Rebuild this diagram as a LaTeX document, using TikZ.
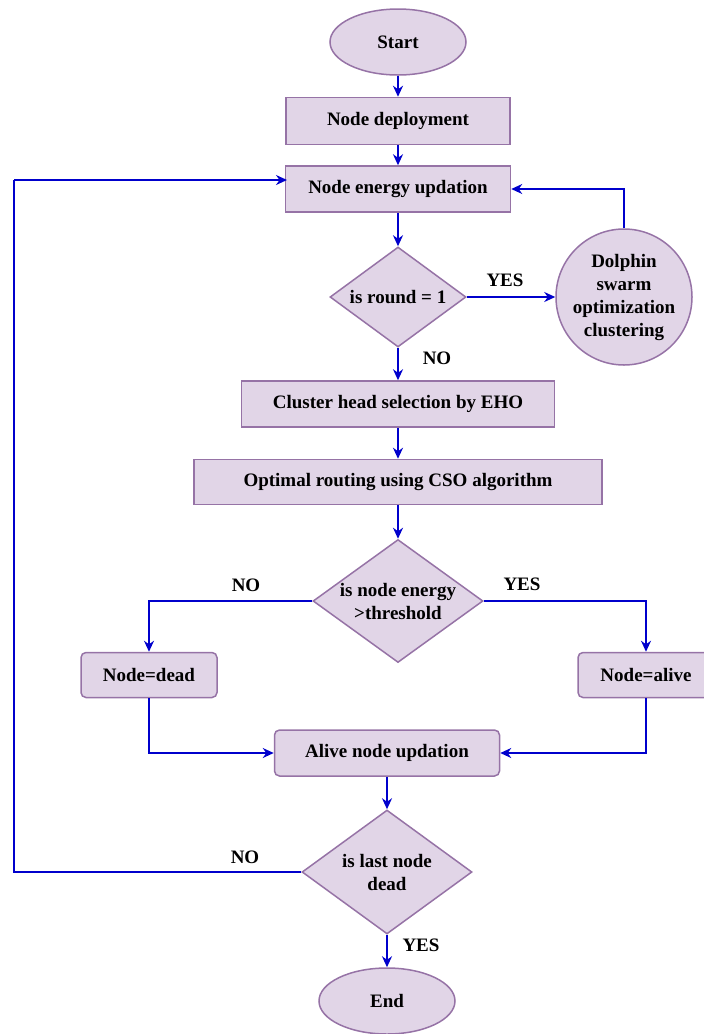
\documentclass[tikz,border=0pt]{standalone}
\usepackage{fontspec}
\setmainfont{Liberation Serif}
\usetikzlibrary{shapes.geometric,arrows.meta}
\definecolor{boxfill}{HTML}{E1D5E7}
\definecolor{boxdraw}{HTML}{9673A6}
\definecolor{arrowblue}{HTML}{0000CC}
\begin{document}
\begin{tikzpicture}[x=1pt,y=-1pt,
  base/.style={fill=boxfill,draw=boxdraw,line width=1.5pt,font=\fontsize{19}{23}\selectfont\bfseries,align=center,inner sep=0pt},
  rectbox/.style={base,rectangle},
  roundbox/.style={base,rectangle,rounded corners=5pt},
  term/.style={base,ellipse,minimum width=136pt,minimum height=66pt},
  decision/.style={base,diamond,aspect=1.4},
  conn/.style={draw=arrowblue,line width=2pt,-{Stealth[length=11pt,width=10pt]}},
  line/.style={draw=arrowblue,line width=2pt},
  lbl/.style={font=\fontsize{19}{23}\selectfont\bfseries,inner sep=0pt}
]
\useasboundingbox (0,0) rectangle (704,1034);
\node[term] (start) at (398,42) {Start};
\node[rectbox,minimum width=224pt,minimum height=47pt] (deploy) at (398,121) {Node deployment};
\node[rectbox,minimum width=225pt,minimum height=46pt] (energy) at (398,189) {Node energy updation};
\node[decision,minimum width=136pt,minimum height=100pt,aspect=1.36] (round) at (398,297) {is round = 1};
\node[base,circle,minimum size=136pt] (dolphin) at (624,297) {Dolphin\\swarm\\optimization\\clustering};
\node[rectbox,minimum width=313pt,minimum height=46pt] (cluster) at (398,404) {Cluster head selection by EHO};
\node[rectbox,minimum width=408pt,minimum height=45pt] (routing) at (398,482) {Optimal routing using CSO algorithm};
\node[decision,minimum width=170pt,minimum height=123pt,aspect=1.38] (thresh) at (398,601) {is node energy\\>threshold};
\node[roundbox,minimum width=136pt,minimum height=45pt] (dead) at (149,675) {Node=dead};
\node[roundbox,minimum width=136pt,minimum height=45pt] (alive) at (646,675) {Node=alive};
\node[roundbox,minimum width=225pt,minimum height=46pt] (update) at (387,753) {Alive node updation};
\node[decision,minimum width=170pt,minimum height=124pt,aspect=1.37] (last) at (387,872) {is last node\\dead};
\node[term] (end) at (387,1001) {End};

\node[lbl] (yes1) at (505,280) {YES};
\node[lbl] (no1) at (437,358) {NO};
\node[lbl] (no2) at (246,585) {NO};
\node[lbl] (yes2) at (522,584) {YES};
\node[lbl] (no3) at (245,857) {NO};
\node[lbl] (yes3) at (421,945) {YES};

\coordinate (loopL) at (14,872);
\coordinate (loopT) at (14,180);
\coordinate (energyin) at (287,180);

\draw[conn] (start) -- (deploy);
\draw[conn] (deploy) -- (energy);
\draw[conn] (energy) -- (round);
\draw[conn] (round.east) -- (dolphin.west);
\draw[conn] (dolphin.north) |- (energy.east);
\draw[conn] (round.south) -- (cluster.north);
\draw[conn] (cluster) -- (routing);
\draw[conn] (routing) -- (thresh);
\draw[conn] (thresh.west) -| (dead.north);
\draw[conn] (thresh.east) -| (alive.north);
\draw[conn] (dead.south) |- (update.west);
\draw[conn] (alive.south) |- (update.east);
\draw[conn] (update) -- (last);
\draw[line] (last.west) -- (loopL) -- (loopT);
\draw[conn] (loopT) -- (energyin);
\draw[conn] (last.south) -- (end.north);
\end{tikzpicture}
\end{document}
